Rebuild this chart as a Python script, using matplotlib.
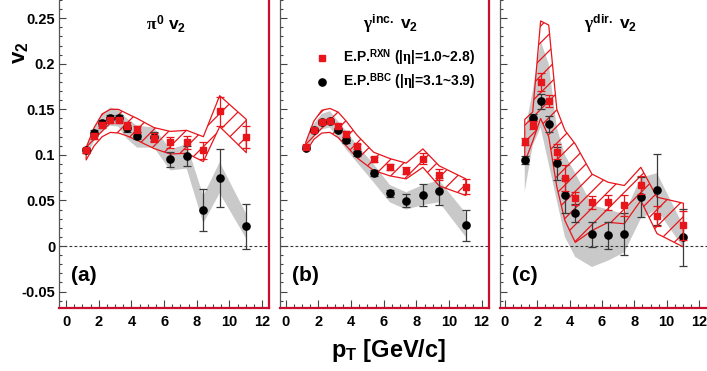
import matplotlib
matplotlib.use("Agg")
import matplotlib.pyplot as plt
from matplotlib import font_manager
from matplotlib.ticker import MultipleLocator, FuncFormatter

# ---------------- fonts ----------------
_names = {f.name for f in font_manager.fontManager.ttflist}
SANS = "Liberation Sans Narrow" if "Liberation Sans Narrow" in _names else "Liberation Sans"
RED = "#e8151b"
FRAME_RED = "#c8102e"

plt.rcParams["font.family"] = [SANS, "DejaVu Sans"]
plt.rcParams["font.weight"] = "bold"
plt.rcParams["axes.unicode_minus"] = False
plt.rcParams["mathtext.fontset"] = "custom"
plt.rcParams["mathtext.rm"] = SANS + ":bold"
plt.rcParams["mathtext.bf"] = SANS + ":bold"
plt.rcParams["mathtext.it"] = "Liberation Serif"
plt.rcParams["hatch.linewidth"] = 0.9
plt.rcParams["hatch.color"] = RED

# ---------------- data ----------------
pt = [1.23, 1.72, 2.21, 2.71, 3.21, 3.71, 4.35, 5.38, 6.38, 7.38, 8.40, 9.40, 11.03]

# pi0 v2
pi0_rxn = [0.105, 0.121, 0.133, 0.138, 0.138, 0.132, 0.128, 0.119, 0.114, 0.114, 0.105, 0.148, 0.120]
pi0_rxn_err = [0.003, 0.003, 0.003, 0.003, 0.003, 0.004, 0.004, 0.005, 0.006, 0.007, 0.009, 0.016, 0.012]
pi0_rxn_lo = [0.0945, 0.110, 0.120, 0.1247, 0.124, 0.121, 0.116, 0.107, 0.101, 0.1018, 0.0927, 0.131, 0.1025]
pi0_rxn_hi = [0.108, 0.130, 0.145, 0.150, 0.150, 0.1455, 0.140, 0.130, 0.1258, 0.127, 0.120, 0.165, 0.139]
pi0_bbc = [0.105, 0.124, 0.135, 0.141, 0.1405, 0.129, 0.121, 0.120, 0.095, 0.099, 0.040, 0.075, 0.0216]
pi0_bbc_err = [0.003, 0.003, 0.003, 0.003, 0.003, 0.004, 0.004, 0.005, 0.008, 0.011, 0.023, 0.032, 0.025]
pi0_bbc_lo = [0.098, 0.115, 0.127, 0.132, 0.131, 0.118, 0.108, 0.108, 0.083, 0.085, 0.025, 0.058, 0.008]
pi0_bbc_hi = [0.110, 0.130, 0.145, 0.152, 0.150, 0.140, 0.132, 0.130, 0.106, 0.112, 0.055, 0.092, 0.035]

# inclusive photon v2
inc_rxn = [0.109, 0.127, 0.1364, 0.1368, 0.132, 0.123, 0.1094, 0.095, 0.0868, 0.0828, 0.096, 0.0784, 0.0653]
inc_rxn_err = [0.002, 0.002, 0.002, 0.002, 0.002, 0.003, 0.003, 0.003, 0.003, 0.004, 0.006, 0.006, 0.008]
inc_rxn_lo = [0.103, 0.117, 0.124, 0.1247, 0.119, 0.110, 0.097, 0.083, 0.077, 0.0737, 0.0864, 0.066, 0.0555]
inc_rxn_hi = [0.114, 0.137, 0.149, 0.151, 0.147, 0.137, 0.122, 0.103, 0.096, 0.091, 0.1066, 0.088, 0.0737]
inc_bbc = [0.108, 0.127, 0.136, 0.137, 0.1277, 0.1164, 0.1018, 0.0803, 0.0577, 0.0496, 0.0562, 0.0602, 0.023]
inc_bbc_err = [0.002, 0.002, 0.002, 0.002, 0.002, 0.003, 0.003, 0.003, 0.004, 0.007, 0.012, 0.015, 0.017]
inc_bbc_lo = [0.102, 0.120, 0.128, 0.130, 0.118, 0.106, 0.092, 0.070, 0.048, 0.040, 0.045, 0.048, 0.010]
inc_bbc_hi = [0.114, 0.134, 0.145, 0.148, 0.137, 0.126, 0.111, 0.090, 0.067, 0.059, 0.067, 0.072, 0.036]

# direct photon v2
dir_rxn = [0.1146, 0.1328, 0.180, 0.1594, 0.1036, 0.0744, 0.0525, 0.0478, 0.0478, 0.0445, 0.0668, 0.0325, 0.0226]
dir_rxn_err = [0.004, 0.004, 0.010, 0.0065, 0.008, 0.014, 0.007, 0.007, 0.008, 0.011, 0.010, 0.011, 0.016]
dir_rxn_lo = [0.092, 0.115, 0.140, 0.120, 0.065, 0.028, 0.004, 0.017, 0.026, 0.0245, 0.050, 0.0136, -0.001]
dir_rxn_hi = [0.139, 0.147, 0.247, 0.2425, 0.150, 0.127, 0.112, 0.079, 0.070, 0.0664, 0.0864, 0.0536, 0.047]
dir_bbc = [0.0945, 0.141, 0.1587, 0.134, 0.0908, 0.0558, 0.0365, 0.0128, 0.0117, 0.0135, 0.054, 0.062, 0.0095]
dir_bbc_err = [0.004, 0.004, 0.008, 0.009, 0.018, 0.019, 0.010, 0.014, 0.015, 0.023, 0.022, 0.039, 0.031]
dir_bbc_lo = [0.060, 0.110, 0.130, 0.090, 0.050, 0.010, -0.012, -0.023, -0.016, -0.007, 0.030, 0.040, -0.002]
dir_bbc_hi = [0.125, 0.170, 0.225, 0.200, 0.130, 0.100, 0.080, 0.045, 0.040, 0.035, 0.075, 0.080, 0.022]

panels = [
    dict(title=r"$\pi^{0}$ v$_{2}$", tag="(a)", tx=0.511,
         rxn=pi0_rxn, rxn_err=pi0_rxn_err, rxn_lo=pi0_rxn_lo, rxn_hi=pi0_rxn_hi,
         bbc=pi0_bbc, bbc_err=pi0_bbc_err, bbc_lo=pi0_bbc_lo, bbc_hi=pi0_bbc_hi),
    dict(title=r"$\gamma^{\mathrm{inc.}}$ v$_{2}$", tag="(b)", tx=0.531,
         rxn=inc_rxn, rxn_err=inc_rxn_err, rxn_lo=inc_rxn_lo, rxn_hi=inc_rxn_hi,
         bbc=inc_bbc, bbc_err=inc_bbc_err, bbc_lo=inc_bbc_lo, bbc_hi=inc_bbc_hi),
    dict(title=r"$\gamma^{\mathrm{dir.}}$ v$_{2}$", tag="(c)", tx=0.533,
         rxn=dir_rxn, rxn_err=dir_rxn_err, rxn_lo=dir_rxn_lo, rxn_hi=dir_rxn_hi,
         bbc=dir_bbc, bbc_err=dir_bbc_err, bbc_lo=dir_bbc_lo, bbc_hi=dir_bbc_hi),
]

legend_labels = [r"E.P.$^{\mathrm{RXN}}$ (|$\eta$|=1.0~2.8)",
                 r"E.P.$^{\mathrm{BBC}}$ (|$\eta$|=3.1~3.9)"]

# ---------------- figure ----------------
W, H = 707, 371
fig = plt.figure(figsize=(W / 100, H / 100), dpi=100)

ax_left = [58.7, 280.0, 500.0]
ax_width = [210.0, 209.0, 208.0]
xlims = [(-0.45, 12.4), (-0.35, 12.45), (-0.3, 12.55)]
bottom_px = 308.0
YLIM = (-0.068, 0.27)

for i, p in enumerate(panels):
    ax = fig.add_axes([ax_left[i] / W, (H - bottom_px) / H, ax_width[i] / W, bottom_px / H])
    ax.set_xlim(*xlims[i])
    ax.set_ylim(*YLIM)

    # systematic bands
    ax.fill_between(pt, p["bbc_lo"], p["bbc_hi"], facecolor="#c9c9c9", edgecolor="none",
                    linewidth=0, zorder=1)
    ax.fill_between(pt, p["rxn_lo"], p["rxn_hi"], facecolor="none", edgecolor=RED,
                    hatch="//", linewidth=0.9, zorder=2)

    ax.axhline(0, color="#333333", lw=0.8, ls=(0, (2.5, 2)), zorder=1.5)

    ax.errorbar(pt, p["bbc"], yerr=p["bbc_err"], fmt="o", ms=5.2, color="black",
                ecolor="#3a3a3a", elinewidth=0.9, capsize=3, capthick=0.9, zorder=3)
    ax.errorbar(pt, p["rxn"], yerr=p["rxn_err"], fmt="s", ms=4.6, color=RED,
                ecolor=RED, elinewidth=0.9, capsize=3, capthick=0.9, zorder=4)

    # frame
    ax.spines["top"].set_visible(False)
    ax.spines["left"].set_color("#555555")
    ax.spines["left"].set_linewidth(0.9)
    ax.spines["bottom"].set_color(FRAME_RED)
    ax.spines["bottom"].set_linewidth(1.6)
    if i < 2:
        ax.spines["right"].set_color(FRAME_RED)
        ax.spines["right"].set_linewidth(1.6)
    else:
        ax.spines["right"].set_visible(False)

    ax.xaxis.set_major_locator(MultipleLocator(2))
    ax.xaxis.set_minor_locator(MultipleLocator(0.5))
    ax.yaxis.set_major_locator(MultipleLocator(0.05))
    ax.yaxis.set_minor_locator(MultipleLocator(0.01))
    ax.tick_params(axis="both", which="both", direction="in", colors="#444444",
                   labelcolor="black", labelsize=10.5, top=False, right=False)
    ax.tick_params(axis="x", which="major", length=5.5, width=0.8, pad=5)
    ax.tick_params(axis="x", which="minor", length=3, width=0.8)
    ax.tick_params(axis="y", which="major", length=5, width=0.8, pad=2.5)
    ax.tick_params(axis="y", which="minor", length=2.5, width=0.8)
    ax.xaxis.set_major_formatter(FuncFormatter(lambda v, _: f"{v:g}"))
    if i == 0:
        ax.yaxis.set_major_formatter(FuncFormatter(lambda v, _: f"{round(v, 3):g}"))
    else:
        ax.tick_params(axis="y", labelleft=False)

    ax.text(p["tx"], 0.922, p["title"], transform=ax.transAxes, ha="center", va="center",
            fontsize=12.5, fontweight="bold")
    ax.text(0.12, 0.104, p["tag"], transform=ax.transAxes, ha="center", va="center",
            fontsize=15, fontweight="bold")

    if i == 1:
        ax.plot([0.201], [0.812], "s", ms=4.6, color=RED, transform=ax.transAxes,
                clip_on=False)
        ax.plot([0.201], [0.734], "o", ms=5.2, color="black", transform=ax.transAxes,
                clip_on=False)
        ax.text(0.301, 0.812, legend_labels[0], transform=ax.transAxes, ha="left",
                va="center", fontsize=10, fontweight="bold")
        ax.text(0.301, 0.734, legend_labels[1], transform=ax.transAxes, ha="left",
                va="center", fontsize=10, fontweight="bold")

fig.text(19 / W, 1 - 53 / H, r"v$_{2}$", rotation=90, ha="center", va="center",
         fontsize=16, fontweight="bold")
fig.text(389 / W, 1 - 351 / H, r"p$_{\mathrm{T}}$ [GeV/c]", ha="center", va="center",
         fontsize=17, fontweight="bold")

fig.savefig("out.png", dpi=100)
